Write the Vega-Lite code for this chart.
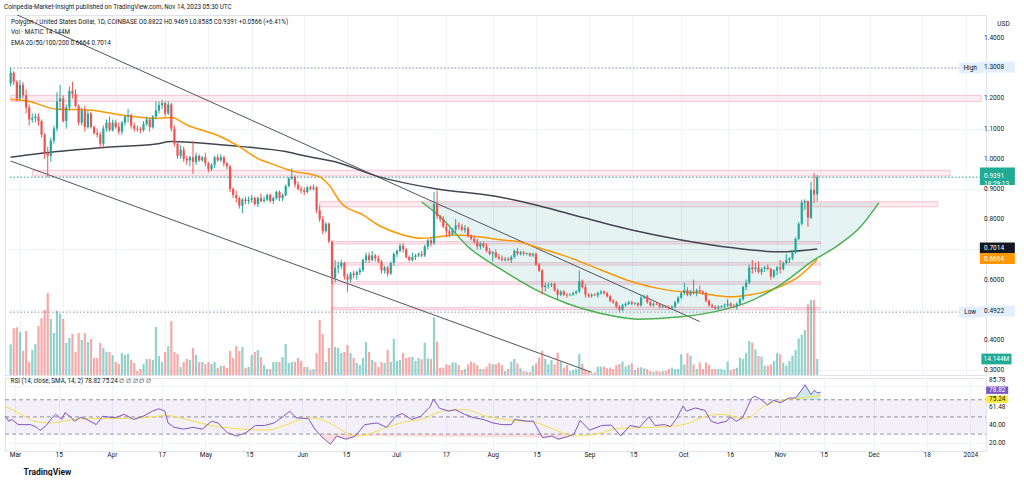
{
  "$schema": "https://vega.github.io/schema/vega-lite/v6.json",
  "background": "#ffffff",
  "padding": {"left": 4, "top": 4, "right": 0, "bottom": 0},
  "spacing": 0,
  "config": {
    "font": "Roboto",
    "view": {"stroke": "#e0e3eb", "strokeWidth": 1},
    "axis": {"labelFont": "Roboto", "labelFontSize": 6.5, "labelColor": "#131722", "gridColor": "#f0f3fa", "domain": false, "ticks": false, "labelOverlap": false},
    "title": {"font": "Roboto", "fontSize": 6.3, "fontWeight": "normal", "color": "#131722", "anchor": "start"}
  },
  "title": {"text": "Coinpedia-Market-Insight published on TradingView.com, Nov 14, 2023 05:30 UTC", "offset": 4},
  "resolve": {"scale": {"x": "independent", "y": "independent"}},
  "datasets": {
    "candles": [
      {"t":"2023-02-26","o":1.25,"h":1.3008,"l":1.24,"c":1.285,"v":27.1},
      {"t":"2023-02-27","o":1.285,"h":1.29,"l":1.245,"c":1.255,"v":41.3},
      {"t":"2023-02-28","o":1.255,"h":1.26,"l":1.19,"c":1.2,"v":42.2},
      {"t":"2023-03-01","o":1.2,"h":1.26,"l":1.195,"c":1.245,"v":38},
      {"t":"2023-03-02","o":1.245,"h":1.255,"l":1.2,"c":1.21,"v":21.2},
      {"t":"2023-03-03","o":1.21,"h":1.23,"l":1.15,"c":1.17,"v":38.9},
      {"t":"2023-03-04","o":1.17,"h":1.18,"l":1.11,"c":1.13,"v":11.5},
      {"t":"2023-03-05","o":1.13,"h":1.15,"l":1.12,"c":1.135,"v":22.1},
      {"t":"2023-03-06","o":1.135,"h":1.15,"l":1.12,"c":1.14,"v":27.4},
      {"t":"2023-03-07","o":1.14,"h":1.15,"l":1.11,"c":1.125,"v":43.3},
      {"t":"2023-03-08","o":1.125,"h":1.13,"l":1.07,"c":1.08,"v":50.4},
      {"t":"2023-03-09","o":1.08,"h":1.085,"l":1.0,"c":1.02,"v":57.5},
      {"t":"2023-03-10","o":1.02,"h":1.04,"l":0.94,"c":1.01,"v":72.5},
      {"t":"2023-03-11","o":1.01,"h":1.07,"l":0.99,"c":1.06,"v":49.5},
      {"t":"2023-03-12","o":1.06,"h":1.11,"l":1.05,"c":1.1,"v":37.1},
      {"t":"2023-03-13","o":1.1,"h":1.22,"l":1.09,"c":1.19,"v":56.6},
      {"t":"2023-03-14","o":1.19,"h":1.245,"l":1.16,"c":1.2,"v":53.9},
      {"t":"2023-03-15","o":1.2,"h":1.21,"l":1.12,"c":1.125,"v":49.5},
      {"t":"2023-03-16","o":1.125,"h":1.18,"l":1.1,"c":1.17,"v":28.3},
      {"t":"2023-03-17","o":1.17,"h":1.24,"l":1.16,"c":1.225,"v":32.7},
      {"t":"2023-03-18","o":1.225,"h":1.255,"l":1.2,"c":1.215,"v":36.2},
      {"t":"2023-03-19","o":1.215,"h":1.23,"l":1.17,"c":1.175,"v":20.3},
      {"t":"2023-03-20","o":1.175,"h":1.18,"l":1.11,"c":1.12,"v":37.1},
      {"t":"2023-03-21","o":1.12,"h":1.17,"l":1.11,"c":1.16,"v":30.9},
      {"t":"2023-03-22","o":1.16,"h":1.175,"l":1.09,"c":1.105,"v":37.1},
      {"t":"2023-03-23","o":1.105,"h":1.16,"l":1.1,"c":1.15,"v":29.2},
      {"t":"2023-03-24","o":1.15,"h":1.155,"l":1.1,"c":1.105,"v":31.8},
      {"t":"2023-03-25","o":1.105,"h":1.11,"l":1.08,"c":1.085,"v":15},
      {"t":"2023-03-26","o":1.085,"h":1.1,"l":1.07,"c":1.08,"v":15},
      {"t":"2023-03-27","o":1.08,"h":1.09,"l":1.035,"c":1.05,"v":28.3},
      {"t":"2023-03-28","o":1.05,"h":1.11,"l":1.04,"c":1.1,"v":23.9},
      {"t":"2023-03-29","o":1.1,"h":1.13,"l":1.09,"c":1.12,"v":20.3},
      {"t":"2023-03-30","o":1.12,"h":1.14,"l":1.09,"c":1.095,"v":20.3},
      {"t":"2023-03-31","o":1.095,"h":1.13,"l":1.09,"c":1.12,"v":17.7},
      {"t":"2023-04-01","o":1.12,"h":1.13,"l":1.1,"c":1.105,"v":11.5},
      {"t":"2023-04-02","o":1.105,"h":1.12,"l":1.08,"c":1.09,"v":9.7},
      {"t":"2023-04-03","o":1.09,"h":1.125,"l":1.08,"c":1.12,"v":19.4},
      {"t":"2023-04-04","o":1.12,"h":1.145,"l":1.11,"c":1.14,"v":17.7},
      {"t":"2023-04-05","o":1.14,"h":1.165,"l":1.12,"c":1.145,"v":18.6},
      {"t":"2023-04-06","o":1.145,"h":1.15,"l":1.1,"c":1.11,"v":13.3},
      {"t":"2023-04-07","o":1.11,"h":1.12,"l":1.09,"c":1.1,"v":10.6},
      {"t":"2023-04-08","o":1.1,"h":1.11,"l":1.09,"c":1.098,"v":3.5},
      {"t":"2023-04-09","o":1.098,"h":1.105,"l":1.085,"c":1.095,"v":5.3},
      {"t":"2023-04-10","o":1.095,"h":1.125,"l":1.09,"c":1.115,"v":9.7},
      {"t":"2023-04-11","o":1.115,"h":1.14,"l":1.11,"c":1.13,"v":14.1},
      {"t":"2023-04-12","o":1.13,"h":1.135,"l":1.09,"c":1.105,"v":14.1},
      {"t":"2023-04-13","o":1.105,"h":1.145,"l":1.1,"c":1.14,"v":13.3},
      {"t":"2023-04-14","o":1.14,"h":1.19,"l":1.13,"c":1.16,"v":42.4},
      {"t":"2023-04-15","o":1.16,"h":1.19,"l":1.15,"c":1.178,"v":16.8},
      {"t":"2023-04-16","o":1.178,"h":1.195,"l":1.165,"c":1.185,"v":11.5},
      {"t":"2023-04-17","o":1.185,"h":1.19,"l":1.14,"c":1.15,"v":20.3},
      {"t":"2023-04-18","o":1.15,"h":1.19,"l":1.145,"c":1.18,"v":25.6},
      {"t":"2023-04-19","o":1.18,"h":1.185,"l":1.09,"c":1.1,"v":47.7},
      {"t":"2023-04-20","o":1.1,"h":1.11,"l":1.04,"c":1.05,"v":20.3},
      {"t":"2023-04-21","o":1.05,"h":1.06,"l":1.0,"c":1.01,"v":18.6},
      {"t":"2023-04-22","o":1.01,"h":1.045,"l":1.0,"c":1.03,"v":7.1},
      {"t":"2023-04-23","o":1.03,"h":1.04,"l":0.99,"c":1.0,"v":11.5},
      {"t":"2023-04-24","o":1.0,"h":1.01,"l":0.98,"c":0.995,"v":14.1},
      {"t":"2023-04-25","o":0.995,"h":1.01,"l":0.975,"c":1.005,"v":13.3},
      {"t":"2023-04-26","o":1.005,"h":1.06,"l":0.95,"c":0.99,"v":23.9},
      {"t":"2023-04-27","o":0.99,"h":1.02,"l":0.98,"c":1.01,"v":17.7},
      {"t":"2023-04-28","o":1.01,"h":1.015,"l":0.99,"c":0.995,"v":11.5},
      {"t":"2023-04-29","o":0.995,"h":1.01,"l":0.99,"c":1.005,"v":11.5},
      {"t":"2023-04-30","o":1.005,"h":1.02,"l":0.975,"c":0.985,"v":9.7},
      {"t":"2023-05-01","o":0.985,"h":0.99,"l":0.955,"c":0.965,"v":11.5},
      {"t":"2023-05-02","o":0.965,"h":0.985,"l":0.96,"c":0.98,"v":9.7},
      {"t":"2023-05-03","o":0.98,"h":1.01,"l":0.97,"c":1.005,"v":11.5},
      {"t":"2023-05-04","o":1.005,"h":1.015,"l":0.99,"c":0.995,"v":6.2},
      {"t":"2023-05-05","o":0.995,"h":1.015,"l":0.99,"c":1.005,"v":8},
      {"t":"2023-05-06","o":1.005,"h":1.01,"l":0.975,"c":0.985,"v":8},
      {"t":"2023-05-07","o":0.985,"h":0.99,"l":0.965,"c":0.975,"v":6.2},
      {"t":"2023-05-08","o":0.975,"h":0.98,"l":0.89,"c":0.9,"v":21.2},
      {"t":"2023-05-09","o":0.9,"h":0.905,"l":0.87,"c":0.88,"v":15},
      {"t":"2023-05-10","o":0.88,"h":0.895,"l":0.855,"c":0.87,"v":25.6},
      {"t":"2023-05-11","o":0.87,"h":0.875,"l":0.835,"c":0.845,"v":21.2},
      {"t":"2023-05-12","o":0.845,"h":0.87,"l":0.82,"c":0.865,"v":24.8},
      {"t":"2023-05-13","o":0.865,"h":0.875,"l":0.85,"c":0.86,"v":6.2},
      {"t":"2023-05-14","o":0.86,"h":0.875,"l":0.85,"c":0.865,"v":7.1},
      {"t":"2023-05-15","o":0.865,"h":0.88,"l":0.855,"c":0.87,"v":17.7},
      {"t":"2023-05-16","o":0.87,"h":0.875,"l":0.845,"c":0.85,"v":20.3},
      {"t":"2023-05-17","o":0.85,"h":0.875,"l":0.84,"c":0.87,"v":22.1},
      {"t":"2023-05-18","o":0.87,"h":0.885,"l":0.855,"c":0.86,"v":15.9},
      {"t":"2023-05-19","o":0.86,"h":0.875,"l":0.855,"c":0.865,"v":8.8},
      {"t":"2023-05-20","o":0.865,"h":0.885,"l":0.86,"c":0.88,"v":5.3},
      {"t":"2023-05-21","o":0.88,"h":0.885,"l":0.855,"c":0.86,"v":5.3},
      {"t":"2023-05-22","o":0.86,"h":0.875,"l":0.85,"c":0.87,"v":11.5},
      {"t":"2023-05-23","o":0.87,"h":0.895,"l":0.865,"c":0.89,"v":11.5},
      {"t":"2023-05-24","o":0.89,"h":0.895,"l":0.86,"c":0.87,"v":11.5},
      {"t":"2023-05-25","o":0.87,"h":0.885,"l":0.86,"c":0.88,"v":15.9},
      {"t":"2023-05-26","o":0.88,"h":0.915,"l":0.875,"c":0.91,"v":27.4},
      {"t":"2023-05-27","o":0.91,"h":0.94,"l":0.905,"c":0.935,"v":10.6},
      {"t":"2023-05-28","o":0.935,"h":0.968,"l":0.93,"c":0.94,"v":11.5},
      {"t":"2023-05-29","o":0.94,"h":0.945,"l":0.905,"c":0.915,"v":11.5},
      {"t":"2023-05-30","o":0.915,"h":0.925,"l":0.895,"c":0.9,"v":15},
      {"t":"2023-05-31","o":0.9,"h":0.91,"l":0.885,"c":0.895,"v":12.4},
      {"t":"2023-06-01","o":0.895,"h":0.905,"l":0.88,"c":0.89,"v":7.1},
      {"t":"2023-06-02","o":0.89,"h":0.91,"l":0.885,"c":0.905,"v":7.1},
      {"t":"2023-06-03","o":0.905,"h":0.91,"l":0.895,"c":0.9,"v":4.4},
      {"t":"2023-06-04","o":0.9,"h":0.915,"l":0.895,"c":0.905,"v":5.3},
      {"t":"2023-06-05","o":0.905,"h":0.91,"l":0.82,"c":0.83,"v":19.4},
      {"t":"2023-06-06","o":0.83,"h":0.845,"l":0.79,"c":0.8,"v":48.6},
      {"t":"2023-06-07","o":0.8,"h":0.81,"l":0.75,"c":0.76,"v":36.2},
      {"t":"2023-06-08","o":0.76,"h":0.79,"l":0.755,"c":0.785,"v":11.5},
      {"t":"2023-06-09","o":0.785,"h":0.79,"l":0.72,"c":0.726,"v":23.9},
      {"t":"2023-06-10","o":0.726,"h":0.73,"l":0.585,"c":0.605,"v":116.7},
      {"t":"2023-06-11","o":0.605,"h":0.665,"l":0.59,"c":0.64,"v":24.8},
      {"t":"2023-06-12","o":0.64,"h":0.66,"l":0.62,"c":0.645,"v":23.9},
      {"t":"2023-06-13","o":0.645,"h":0.665,"l":0.635,"c":0.655,"v":19.4},
      {"t":"2023-06-14","o":0.655,"h":0.66,"l":0.6,"c":0.61,"v":20.3},
      {"t":"2023-06-15","o":0.61,"h":0.62,"l":0.56,"c":0.6,"v":26.5},
      {"t":"2023-06-16","o":0.6,"h":0.625,"l":0.59,"c":0.62,"v":19.4},
      {"t":"2023-06-17","o":0.62,"h":0.63,"l":0.605,"c":0.615,"v":15},
      {"t":"2023-06-18","o":0.615,"h":0.63,"l":0.6,"c":0.625,"v":10.6},
      {"t":"2023-06-19","o":0.625,"h":0.64,"l":0.615,"c":0.632,"v":8.8},
      {"t":"2023-06-20","o":0.632,"h":0.67,"l":0.625,"c":0.665,"v":15},
      {"t":"2023-06-21","o":0.665,"h":0.69,"l":0.655,"c":0.68,"v":29.2},
      {"t":"2023-06-22","o":0.68,"h":0.69,"l":0.655,"c":0.665,"v":20.3},
      {"t":"2023-06-23","o":0.665,"h":0.695,"l":0.66,"c":0.68,"v":13.3},
      {"t":"2023-06-24","o":0.68,"h":0.685,"l":0.66,"c":0.67,"v":11.5},
      {"t":"2023-06-25","o":0.67,"h":0.68,"l":0.655,"c":0.66,"v":7.1},
      {"t":"2023-06-26","o":0.66,"h":0.665,"l":0.62,"c":0.63,"v":11.5},
      {"t":"2023-06-27","o":0.63,"h":0.645,"l":0.62,"c":0.64,"v":10.6},
      {"t":"2023-06-28","o":0.64,"h":0.645,"l":0.61,"c":0.62,"v":22.1},
      {"t":"2023-06-29","o":0.62,"h":0.66,"l":0.615,"c":0.655,"v":11.5},
      {"t":"2023-06-30","o":0.655,"h":0.69,"l":0.645,"c":0.685,"v":31.8},
      {"t":"2023-07-01","o":0.685,"h":0.7,"l":0.675,"c":0.695,"v":12.4},
      {"t":"2023-07-02","o":0.695,"h":0.72,"l":0.69,"c":0.712,"v":13.3},
      {"t":"2023-07-03","o":0.712,"h":0.72,"l":0.69,"c":0.7,"v":19.4},
      {"t":"2023-07-04","o":0.7,"h":0.705,"l":0.67,"c":0.675,"v":15},
      {"t":"2023-07-05","o":0.675,"h":0.68,"l":0.66,"c":0.665,"v":15.9},
      {"t":"2023-07-06","o":0.665,"h":0.69,"l":0.66,"c":0.675,"v":15.9},
      {"t":"2023-07-07","o":0.675,"h":0.685,"l":0.665,"c":0.68,"v":12.4},
      {"t":"2023-07-08","o":0.68,"h":0.69,"l":0.675,"c":0.685,"v":15},
      {"t":"2023-07-09","o":0.685,"h":0.695,"l":0.675,"c":0.68,"v":13.9},
      {"t":"2023-07-10","o":0.68,"h":0.715,"l":0.675,"c":0.71,"v":28.6},
      {"t":"2023-07-11","o":0.71,"h":0.735,"l":0.7,"c":0.73,"v":14.7},
      {"t":"2023-07-12","o":0.73,"h":0.74,"l":0.71,"c":0.72,"v":14.1},
      {"t":"2023-07-13","o":0.72,"h":0.89,"l":0.715,"c":0.85,"v":51},
      {"t":"2023-07-14","o":0.85,"h":0.895,"l":0.8,"c":0.81,"v":29.5},
      {"t":"2023-07-15","o":0.81,"h":0.815,"l":0.79,"c":0.8,"v":6.5},
      {"t":"2023-07-16","o":0.8,"h":0.81,"l":0.77,"c":0.775,"v":6.5},
      {"t":"2023-07-17","o":0.775,"h":0.785,"l":0.74,"c":0.76,"v":9.4},
      {"t":"2023-07-18","o":0.76,"h":0.77,"l":0.74,"c":0.75,"v":8.8},
      {"t":"2023-07-19","o":0.75,"h":0.77,"l":0.745,"c":0.765,"v":11.2},
      {"t":"2023-07-20","o":0.765,"h":0.8,"l":0.755,"c":0.78,"v":10.9},
      {"t":"2023-07-21","o":0.78,"h":0.79,"l":0.765,"c":0.775,"v":8.8},
      {"t":"2023-07-22","o":0.775,"h":0.785,"l":0.76,"c":0.765,"v":4.4},
      {"t":"2023-07-23","o":0.765,"h":0.78,"l":0.755,"c":0.77,"v":5.3},
      {"t":"2023-07-24","o":0.77,"h":0.775,"l":0.74,"c":0.745,"v":9.4},
      {"t":"2023-07-25","o":0.745,"h":0.75,"l":0.73,"c":0.735,"v":11.8},
      {"t":"2023-07-26","o":0.735,"h":0.745,"l":0.72,"c":0.725,"v":10.9},
      {"t":"2023-07-27","o":0.725,"h":0.735,"l":0.7,"c":0.71,"v":8.8},
      {"t":"2023-07-28","o":0.71,"h":0.725,"l":0.7,"c":0.72,"v":5.3},
      {"t":"2023-07-29","o":0.72,"h":0.725,"l":0.705,"c":0.71,"v":5.3},
      {"t":"2023-07-30","o":0.71,"h":0.72,"l":0.69,"c":0.695,"v":7.4},
      {"t":"2023-07-31","o":0.695,"h":0.705,"l":0.68,"c":0.685,"v":10.3},
      {"t":"2023-08-01","o":0.685,"h":0.695,"l":0.66,"c":0.69,"v":9.4},
      {"t":"2023-08-02","o":0.69,"h":0.7,"l":0.67,"c":0.675,"v":9.7},
      {"t":"2023-08-03","o":0.675,"h":0.685,"l":0.665,"c":0.67,"v":10.9},
      {"t":"2023-08-04","o":0.67,"h":0.68,"l":0.66,"c":0.665,"v":8.8},
      {"t":"2023-08-05","o":0.665,"h":0.675,"l":0.66,"c":0.668,"v":3.5},
      {"t":"2023-08-06","o":0.668,"h":0.675,"l":0.66,"c":0.665,"v":5.3},
      {"t":"2023-08-07","o":0.665,"h":0.68,"l":0.655,"c":0.675,"v":11.8},
      {"t":"2023-08-08","o":0.675,"h":0.7,"l":0.67,"c":0.695,"v":14.1},
      {"t":"2023-08-09","o":0.695,"h":0.705,"l":0.68,"c":0.685,"v":10.3},
      {"t":"2023-08-10","o":0.685,"h":0.695,"l":0.68,"c":0.69,"v":5.9},
      {"t":"2023-08-11","o":0.69,"h":0.695,"l":0.68,"c":0.685,"v":3.5},
      {"t":"2023-08-12","o":0.685,"h":0.69,"l":0.68,"c":0.687,"v":2.9},
      {"t":"2023-08-13","o":0.687,"h":0.69,"l":0.675,"c":0.68,"v":2.9},
      {"t":"2023-08-14","o":0.68,"h":0.69,"l":0.675,"c":0.685,"v":8.3},
      {"t":"2023-08-15","o":0.685,"h":0.69,"l":0.645,"c":0.65,"v":10.3},
      {"t":"2023-08-16","o":0.65,"h":0.655,"l":0.625,"c":0.63,"v":15.3},
      {"t":"2023-08-17","o":0.63,"h":0.635,"l":0.55,"c":0.575,"v":21.5},
      {"t":"2023-08-18","o":0.575,"h":0.59,"l":0.56,"c":0.58,"v":14.1},
      {"t":"2023-08-19","o":0.58,"h":0.59,"l":0.57,"c":0.582,"v":9.4},
      {"t":"2023-08-20","o":0.582,"h":0.59,"l":0.575,"c":0.585,"v":13.3},
      {"t":"2023-08-21","o":0.585,"h":0.59,"l":0.56,"c":0.565,"v":9.4},
      {"t":"2023-08-22","o":0.565,"h":0.57,"l":0.535,"c":0.55,"v":19.7},
      {"t":"2023-08-23","o":0.55,"h":0.565,"l":0.545,"c":0.56,"v":11.8},
      {"t":"2023-08-24","o":0.56,"h":0.565,"l":0.545,"c":0.55,"v":6.5},
      {"t":"2023-08-25","o":0.55,"h":0.555,"l":0.54,"c":0.548,"v":8.8},
      {"t":"2023-08-26","o":0.548,"h":0.555,"l":0.545,"c":0.55,"v":3.5},
      {"t":"2023-08-27","o":0.55,"h":0.56,"l":0.545,"c":0.555,"v":4.4},
      {"t":"2023-08-28","o":0.555,"h":0.565,"l":0.55,"c":0.56,"v":5.3},
      {"t":"2023-08-29","o":0.56,"h":0.63,"l":0.555,"c":0.595,"v":18.6},
      {"t":"2023-08-30","o":0.595,"h":0.6,"l":0.57,"c":0.575,"v":9.7},
      {"t":"2023-08-31","o":0.575,"h":0.585,"l":0.54,"c":0.55,"v":4.4},
      {"t":"2023-09-01","o":0.55,"h":0.555,"l":0.54,"c":0.545,"v":2.9},
      {"t":"2023-09-02","o":0.545,"h":0.555,"l":0.54,"c":0.55,"v":1.5},
      {"t":"2023-09-03","o":0.55,"h":0.555,"l":0.545,"c":0.548,"v":2.4},
      {"t":"2023-09-04","o":0.548,"h":0.56,"l":0.54,"c":0.555,"v":7.4},
      {"t":"2023-09-05","o":0.555,"h":0.565,"l":0.55,"c":0.56,"v":7.4},
      {"t":"2023-09-06","o":0.56,"h":0.565,"l":0.55,"c":0.555,"v":7.4},
      {"t":"2023-09-07","o":0.555,"h":0.56,"l":0.54,"c":0.545,"v":5.9},
      {"t":"2023-09-08","o":0.545,"h":0.55,"l":0.525,"c":0.53,"v":6.5},
      {"t":"2023-09-09","o":0.53,"h":0.535,"l":0.52,"c":0.525,"v":5.3},
      {"t":"2023-09-10","o":0.525,"h":0.53,"l":0.505,"c":0.51,"v":8.8},
      {"t":"2023-09-11","o":0.51,"h":0.515,"l":0.4922,"c":0.5,"v":9.7},
      {"t":"2023-09-12","o":0.5,"h":0.52,"l":0.495,"c":0.515,"v":11.8},
      {"t":"2023-09-13","o":0.515,"h":0.525,"l":0.51,"c":0.52,"v":7.4},
      {"t":"2023-09-14","o":0.52,"h":0.53,"l":0.515,"c":0.525,"v":8.8},
      {"t":"2023-09-15","o":0.525,"h":0.53,"l":0.515,"c":0.52,"v":10.3},
      {"t":"2023-09-16","o":0.52,"h":0.525,"l":0.515,"c":0.522,"v":4.4},
      {"t":"2023-09-17","o":0.522,"h":0.525,"l":0.51,"c":0.515,"v":6.5},
      {"t":"2023-09-18","o":0.515,"h":0.55,"l":0.51,"c":0.54,"v":6.8},
      {"t":"2023-09-19","o":0.54,"h":0.55,"l":0.535,"c":0.545,"v":5.9},
      {"t":"2023-09-20","o":0.545,"h":0.55,"l":0.52,"c":0.525,"v":5.3},
      {"t":"2023-09-21","o":0.525,"h":0.53,"l":0.51,"c":0.515,"v":3.5},
      {"t":"2023-09-22","o":0.515,"h":0.525,"l":0.51,"c":0.52,"v":2.9},
      {"t":"2023-09-23","o":0.52,"h":0.525,"l":0.515,"c":0.518,"v":3.5},
      {"t":"2023-09-24","o":0.518,"h":0.522,"l":0.505,"c":0.51,"v":2.9},
      {"t":"2023-09-25","o":0.51,"h":0.515,"l":0.505,"c":0.512,"v":3.5},
      {"t":"2023-09-26","o":0.512,"h":0.515,"l":0.505,"c":0.508,"v":3.5},
      {"t":"2023-09-27","o":0.508,"h":0.515,"l":0.5,"c":0.505,"v":5.3},
      {"t":"2023-09-28","o":0.505,"h":0.515,"l":0.5,"c":0.51,"v":6.5},
      {"t":"2023-09-29","o":0.51,"h":0.53,"l":0.505,"c":0.525,"v":5.3},
      {"t":"2023-09-30","o":0.525,"h":0.545,"l":0.52,"c":0.54,"v":5.3},
      {"t":"2023-10-01","o":0.54,"h":0.56,"l":0.535,"c":0.555,"v":18.3},
      {"t":"2023-10-02","o":0.555,"h":0.59,"l":0.55,"c":0.565,"v":9.4},
      {"t":"2023-10-03","o":0.565,"h":0.575,"l":0.545,"c":0.55,"v":19.2},
      {"t":"2023-10-04","o":0.55,"h":0.565,"l":0.545,"c":0.56,"v":17.1},
      {"t":"2023-10-05","o":0.56,"h":0.6,"l":0.55,"c":0.555,"v":9.4},
      {"t":"2023-10-06","o":0.555,"h":0.57,"l":0.545,"c":0.565,"v":5.3},
      {"t":"2023-10-07","o":0.565,"h":0.58,"l":0.555,"c":0.56,"v":11.2},
      {"t":"2023-10-08","o":0.56,"h":0.565,"l":0.55,"c":0.555,"v":5.3},
      {"t":"2023-10-09","o":0.555,"h":0.56,"l":0.525,"c":0.53,"v":11.2},
      {"t":"2023-10-10","o":0.53,"h":0.535,"l":0.51,"c":0.515,"v":8.8},
      {"t":"2023-10-11","o":0.515,"h":0.52,"l":0.505,"c":0.51,"v":5.3},
      {"t":"2023-10-12","o":0.51,"h":0.515,"l":0.5,"c":0.505,"v":5.3},
      {"t":"2023-10-13","o":0.505,"h":0.515,"l":0.5,"c":0.51,"v":5.3},
      {"t":"2023-10-14","o":0.51,"h":0.515,"l":0.505,"c":0.512,"v":5.3},
      {"t":"2023-10-15","o":0.512,"h":0.52,"l":0.505,"c":0.515,"v":4.4},
      {"t":"2023-10-16","o":0.515,"h":0.535,"l":0.51,"c":0.52,"v":11.8},
      {"t":"2023-10-17","o":0.52,"h":0.525,"l":0.51,"c":0.512,"v":4.4},
      {"t":"2023-10-18","o":0.512,"h":0.52,"l":0.505,"c":0.51,"v":5.3},
      {"t":"2023-10-19","o":0.51,"h":0.525,"l":0.5,"c":0.52,"v":6.5},
      {"t":"2023-10-20","o":0.52,"h":0.54,"l":0.515,"c":0.535,"v":15.3},
      {"t":"2023-10-21","o":0.535,"h":0.58,"l":0.53,"c":0.575,"v":14.1},
      {"t":"2023-10-22","o":0.575,"h":0.6,"l":0.565,"c":0.59,"v":19.7},
      {"t":"2023-10-23","o":0.59,"h":0.65,"l":0.585,"c":0.64,"v":30},
      {"t":"2023-10-24","o":0.64,"h":0.665,"l":0.62,"c":0.635,"v":28.6},
      {"t":"2023-10-25","o":0.635,"h":0.655,"l":0.625,"c":0.64,"v":22.7},
      {"t":"2023-10-26","o":0.64,"h":0.66,"l":0.62,"c":0.625,"v":17.1},
      {"t":"2023-10-27","o":0.625,"h":0.64,"l":0.615,"c":0.635,"v":16.2},
      {"t":"2023-10-28","o":0.635,"h":0.645,"l":0.625,"c":0.64,"v":8.3},
      {"t":"2023-10-29","o":0.64,"h":0.65,"l":0.63,"c":0.635,"v":8.3},
      {"t":"2023-10-30","o":0.635,"h":0.64,"l":0.6,"c":0.61,"v":9.4},
      {"t":"2023-10-31","o":0.61,"h":0.635,"l":0.605,"c":0.63,"v":12.4},
      {"t":"2023-11-01","o":0.63,"h":0.645,"l":0.615,"c":0.64,"v":19.2},
      {"t":"2023-11-02","o":0.64,"h":0.665,"l":0.62,"c":0.635,"v":18.3},
      {"t":"2023-11-03","o":0.635,"h":0.66,"l":0.63,"c":0.655,"v":10.9},
      {"t":"2023-11-04","o":0.655,"h":0.685,"l":0.65,"c":0.665,"v":8.3},
      {"t":"2023-11-05","o":0.665,"h":0.675,"l":0.655,"c":0.67,"v":12.4},
      {"t":"2023-11-06","o":0.67,"h":0.695,"l":0.665,"c":0.69,"v":17.1},
      {"t":"2023-11-07","o":0.69,"h":0.74,"l":0.685,"c":0.735,"v":22.1},
      {"t":"2023-11-08","o":0.735,"h":0.79,"l":0.73,"c":0.785,"v":32.4},
      {"t":"2023-11-09","o":0.785,"h":0.865,"l":0.78,"c":0.855,"v":35.4},
      {"t":"2023-11-10","o":0.855,"h":0.866,"l":0.83,"c":0.86,"v":39.8},
      {"t":"2023-11-11","o":0.86,"h":0.862,"l":0.775,"c":0.805,"v":62.5},
      {"t":"2023-11-12","o":0.805,"h":0.924,"l":0.8,"c":0.897,"v":66.3},
      {"t":"2023-11-13","o":0.897,"h":0.952,"l":0.855,"c":0.8822,"v":66.3},
      {"t":"2023-11-14","o":0.8822,"h":0.9469,"l":0.8585,"c":0.9391,"v":14.144}
    ],
    "ema": [
      {"t":"2023-02-26","k":"e50","p":1.197},{"t":"2023-03-04","k":"e50","p":1.19},{"t":"2023-03-13","k":"e50","p":1.164},
      {"t":"2023-03-23","k":"e50","p":1.162},{"t":"2023-04-03","k":"e50","p":1.145},{"t":"2023-04-14","k":"e50","p":1.134},
      {"t":"2023-04-19","k":"e50","p":1.137},{"t":"2023-04-24","k":"e50","p":1.112},{"t":"2023-05-05","k":"e50","p":1.073},
      {"t":"2023-05-10","k":"e50","p":1.046},{"t":"2023-05-18","k":"e50","p":0.996},{"t":"2023-05-21","k":"e50","p":0.985},
      {"t":"2023-05-28","k":"e50","p":0.96},{"t":"2023-06-06","k":"e50","p":0.94},{"t":"2023-06-09","k":"e50","p":0.913},
      {"t":"2023-06-13","k":"e50","p":0.853},{"t":"2023-06-20","k":"e50","p":0.814},{"t":"2023-06-26","k":"e50","p":0.775},
      {"t":"2023-07-03","k":"e50","p":0.748},{"t":"2023-07-09","k":"e50","p":0.737},{"t":"2023-07-13","k":"e50","p":0.74},
      {"t":"2023-07-20","k":"e50","p":0.748},{"t":"2023-07-29","k":"e50","p":0.74},{"t":"2023-08-04","k":"e50","p":0.731},
      {"t":"2023-08-09","k":"e50","p":0.726},{"t":"2023-08-14","k":"e50","p":0.711},{"t":"2023-08-25","k":"e50","p":0.676},
      {"t":"2023-09-05","k":"e50","p":0.632},{"t":"2023-09-15","k":"e50","p":0.593},{"t":"2023-09-26","k":"e50","p":0.566},
      {"t":"2023-10-07","k":"e50","p":0.555},{"t":"2023-10-17","k":"e50","p":0.543},{"t":"2023-10-23","k":"e50","p":0.549},
      {"t":"2023-11-02","k":"e50","p":0.577},{"t":"2023-11-08","k":"e50","p":0.61},{"t":"2023-11-14","k":"e50","p":0.6664},
      {"t":"2023-02-26","k":"e200","p":1.005},{"t":"2023-03-13","k":"e200","p":1.024},{"t":"2023-03-29","k":"e200","p":1.038},
      {"t":"2023-04-14","k":"e200","p":1.049},{"t":"2023-04-19","k":"e200","p":1.057},{"t":"2023-04-26","k":"e200","p":1.054},
      {"t":"2023-05-10","k":"e200","p":1.042},{"t":"2023-05-26","k":"e200","p":1.024},{"t":"2023-06-01","k":"e200","p":1.01},
      {"t":"2023-06-11","k":"e200","p":0.99},{"t":"2023-06-25","k":"e200","p":0.941},{"t":"2023-07-13","k":"e200","p":0.902},
      {"t":"2023-08-04","k":"e200","p":0.872},{"t":"2023-08-15","k":"e200","p":0.847},{"t":"2023-08-25","k":"e200","p":0.82},
      {"t":"2023-09-15","k":"e200","p":0.764},{"t":"2023-10-01","k":"e200","p":0.731},{"t":"2023-10-17","k":"e200","p":0.706},
      {"t":"2023-11-02","k":"e200","p":0.692},{"t":"2023-11-14","k":"e200","p":0.7014}
    ],
    "cup": [
      {"t":"2023-07-09","p":0.857},{"t":"2023-07-15","p":0.808},{"t":"2023-07-24","p":0.709},{"t":"2023-08-04","p":0.632},
      {"t":"2023-08-14","p":0.571},{"t":"2023-08-25","p":0.521},{"t":"2023-09-05","p":0.488},{"t":"2023-09-17","p":0.469},
      {"t":"2023-10-01","p":0.477},{"t":"2023-10-12","p":0.494},{"t":"2023-10-23","p":0.527},{"t":"2023-11-02","p":0.582},
      {"t":"2023-11-13","p":0.665},{"t":"2023-11-21","p":0.715},{"t":"2023-11-28","p":0.775},{"t":"2023-12-04","p":0.855}
    ],
    "zones": [
      {"t":"2023-02-26","t2":"2024-01-06","p":1.19,"p2":1.21},
      {"t":"2023-03-05","t2":"2023-12-27","p":0.943,"p2":0.962},
      {"t":"2023-06-06","t2":"2023-12-23","p":0.841,"p2":0.858},
      {"t":"2023-06-10","t2":"2023-11-15","p":0.718,"p2":0.726},
      {"t":"2023-06-10","t2":"2023-11-15","p":0.648,"p2":0.656},
      {"t":"2023-06-10","t2":"2023-11-15","p":0.585,"p2":0.593},
      {"t":"2023-06-10","t2":"2023-11-15","p":0.501,"p2":0.508}
    ],
    "channel": [
      {"t":"2023-02-28","p":1.477,"t2":"2023-10-07","p2":0.461},
      {"t":"2023-02-26","p":0.9926,"t2":"2023-09-02","p2":0.293}
    ],
    "levels": [
      {"k":"hl","p":1.3008},{"k":"hl","p":0.4922},{"k":"last","p":0.9391}
    ],
    "priceTicks": [
      {"p":0.3},{"p":0.4},{"p":0.6},{"p":0.8},{"p":0.9},{"p":1.0},{"p":1.1},{"p":1.2},{"p":1.4}
    ],
    "badges": [
      {"k":"last","p":0.9391,"lab":"0.9391\n18:29:13"},
      {"k":"e200","p":0.7014,"lab":"0.7014"},
      {"k":"e50","p":0.6664,"lab":"0.6664"},
      {"k":"hl","p":1.3008,"lab":"1.3008"},
      {"k":"hl","p":0.4922,"lab":"0.4922"}
    ],
    "tags": [
      {"p":1.3008,"lab":"High"},{"p":0.4922,"lab":"Low"}
    ],
    "volTag": [{"v":14.144,"lab":"14.144M"}],
    "rsi": [
      {"t":"2023-02-26","r":50.7},{"t":"2023-02-27","r":45},{"t":"2023-02-28","r":47},{"t":"2023-03-02","r":41},
      {"t":"2023-03-06","r":41},{"t":"2023-03-08","r":37.8},{"t":"2023-03-09","r":34},{"t":"2023-03-11","r":40},
      {"t":"2023-03-13","r":49.5},{"t":"2023-03-14","r":53},{"t":"2023-03-16","r":47},{"t":"2023-03-17","r":55},
      {"t":"2023-03-19","r":49.5},{"t":"2023-03-20","r":45},{"t":"2023-03-22","r":49.5},{"t":"2023-03-24","r":47},
      {"t":"2023-03-27","r":41},{"t":"2023-03-29","r":50.7},{"t":"2023-04-02","r":49},{"t":"2023-04-05","r":53},
      {"t":"2023-04-08","r":47},{"t":"2023-04-11","r":50.7},{"t":"2023-04-14","r":56.7},{"t":"2023-04-16","r":59.5},
      {"t":"2023-04-18","r":56.7},{"t":"2023-04-19","r":43},{"t":"2023-04-21","r":37.8},{"t":"2023-04-24","r":35.8},
      {"t":"2023-04-27","r":37.8},{"t":"2023-04-30","r":35.8},{"t":"2023-05-03","r":45},{"t":"2023-05-05","r":43},
      {"t":"2023-05-08","r":31.6},{"t":"2023-05-11","r":27.7},{"t":"2023-05-14","r":31.6},{"t":"2023-05-17","r":40},
      {"t":"2023-05-20","r":40},{"t":"2023-05-23","r":43},{"t":"2023-05-26","r":50.7},{"t":"2023-05-28","r":56.7},
      {"t":"2023-05-30","r":49},{"t":"2023-06-03","r":48},{"t":"2023-06-05","r":35.8},{"t":"2023-06-07","r":27.7},
      {"t":"2023-06-10","r":18},{"t":"2023-06-12","r":27.7},{"t":"2023-06-15","r":24},{"t":"2023-06-18","r":27.7},
      {"t":"2023-06-21","r":41},{"t":"2023-06-25","r":43},{"t":"2023-06-28","r":37.8},{"t":"2023-07-01","r":50.7},
      {"t":"2023-07-03","r":54},{"t":"2023-07-06","r":47},{"t":"2023-07-09","r":50.7},{"t":"2023-07-11","r":58.5},
      {"t":"2023-07-12","r":62},{"t":"2023-07-13","r":70.8},{"t":"2023-07-15","r":60},{"t":"2023-07-18","r":56.7},
      {"t":"2023-07-20","r":58.5},{"t":"2023-07-23","r":53},{"t":"2023-07-26","r":49},{"t":"2023-07-29","r":47},
      {"t":"2023-08-01","r":43},{"t":"2023-08-04","r":41},{"t":"2023-08-07","r":41},{"t":"2023-08-08","r":47},
      {"t":"2023-08-12","r":45},{"t":"2023-08-14","r":45},{"t":"2023-08-17","r":25.8},{"t":"2023-08-20","r":27.7},
      {"t":"2023-08-22","r":24},{"t":"2023-08-25","r":27},{"t":"2023-08-27","r":29.7},{"t":"2023-08-29","r":46},
      {"t":"2023-09-01","r":34.5},{"t":"2023-09-05","r":40},{"t":"2023-09-08","r":40.5},{"t":"2023-09-11","r":27.7},
      {"t":"2023-09-14","r":40},{"t":"2023-09-17","r":37.8},{"t":"2023-09-20","r":50},{"t":"2023-09-22","r":40},
      {"t":"2023-09-25","r":41},{"t":"2023-09-27","r":38.7},{"t":"2023-09-29","r":49},{"t":"2023-10-01","r":62.7},
      {"t":"2023-10-02","r":56.7},{"t":"2023-10-05","r":60.4},{"t":"2023-10-08","r":57.5},{"t":"2023-10-10","r":45},
      {"t":"2023-10-12","r":42.4},{"t":"2023-10-15","r":45},{"t":"2023-10-16","r":50},{"t":"2023-10-18","r":45},
      {"t":"2023-10-20","r":49},{"t":"2023-10-23","r":72},{"t":"2023-10-24","r":74},{"t":"2023-10-26","r":70},
      {"t":"2023-10-28","r":64},{"t":"2023-10-30","r":69.5},{"t":"2023-11-01","r":66.5},{"t":"2023-11-04","r":72},
      {"t":"2023-11-06","r":72},{"t":"2023-11-08","r":81.7},{"t":"2023-11-09","r":87.5},{"t":"2023-11-11","r":76},
      {"t":"2023-11-12","r":81},{"t":"2023-11-13","r":78},{"t":"2023-11-14","r":78.82}
    ],
    "rsiMa": [
      {"t":"2023-02-26","r":62},{"t":"2023-03-03","r":53},{"t":"2023-03-07","r":45},{"t":"2023-03-13","r":43},
      {"t":"2023-03-18","r":46},{"t":"2023-03-23","r":48},{"t":"2023-03-31","r":48},{"t":"2023-04-08","r":48.4},
      {"t":"2023-04-15","r":50.7},{"t":"2023-04-19","r":51.5},{"t":"2023-04-25","r":47},{"t":"2023-05-02","r":40.5},
      {"t":"2023-05-10","r":36.6},{"t":"2023-05-21","r":34.7},{"t":"2023-05-27","r":41},{"t":"2023-06-03","r":49},
      {"t":"2023-06-07","r":47},{"t":"2023-06-11","r":40.5},{"t":"2023-06-18","r":27.7},{"t":"2023-06-22","r":29.7},
      {"t":"2023-06-28","r":37.8},{"t":"2023-07-05","r":45},{"t":"2023-07-09","r":47},{"t":"2023-07-16","r":56.7},
      {"t":"2023-07-23","r":58.5},{"t":"2023-07-30","r":50.7},{"t":"2023-08-07","r":46},{"t":"2023-08-14","r":44},
      {"t":"2023-08-22","r":33.5},{"t":"2023-08-27","r":27.7},{"t":"2023-09-05","r":31.6},{"t":"2023-09-10","r":36.7},
      {"t":"2023-09-21","r":37.8},{"t":"2023-10-01","r":41},{"t":"2023-10-09","r":51.5},{"t":"2023-10-13","r":53},
      {"t":"2023-10-21","r":48},{"t":"2023-10-27","r":62.7},{"t":"2023-11-02","r":70},{"t":"2023-11-08","r":72},
      {"t":"2023-11-14","r":75.24}
    ],
    "rsiLevels": [{"r":70},{"r":50},{"r":30}],
    "rsiBand": [{"r":70,"r2":30}],
    "rsiTicks": [{"r":20,"lab":"20.00"},{"r":40,"lab":"40.00"},{"r":61.48,"lab":"61.48"},{"r":85.78,"lab":"85.78"}],
    "rsiTags": [{"k":"rsi","r":78.82,"lab":"78.82"},{"k":"ma","r":75.24,"lab":"75.24"}]
  },
  "vconcat": [
    {
      "width": 981,
      "height": 360,
      "title": {
        "text": [
          "Polygon / United States Dollar, 1D, COINBASE   O0.8822  H0.9469  L0.8585  C0.9391  +0.0566 (+6.41%)",
          "Vol · MATIC   14.144M",
          "EMA 20/50/100/200   0.6664   0.7014"
        ],
        "baseline": "top",
        "offset": -31,
        "lineHeight": 10.5,
        "dx": 6
      },
      "resolve": {"scale": {"y": "independent"}},
      "layer": [
        {
          "layer": [
            {
              "data": {"name": "zones"},
              "mark": {"type": "rect", "fill": "#f8c8d6", "fillOpacity": 0.35, "stroke": "#f2a7bd", "strokeOpacity": 0.8, "strokeWidth": 0.8, "clip": true},
              "encoding": {
                "x": {
                  "field": "t", "type": "temporal",
                  "scale": {"type": "utc", "domain": [{"year":2023,"month":2,"date":25,"hours":19,"utc":true},{"year":2024,"month":1,"date":6,"utc":true}]},
                  "axis": {
                    "title": null, "labels": false, "grid": true,
                    "values": [
                      {"year":2023,"month":3,"date":1,"utc":true},{"year":2023,"month":3,"date":15,"utc":true},
                      {"year":2023,"month":4,"date":1,"utc":true},{"year":2023,"month":4,"date":17,"utc":true},
                      {"year":2023,"month":5,"date":1,"utc":true},{"year":2023,"month":5,"date":15,"utc":true},
                      {"year":2023,"month":6,"date":1,"utc":true},{"year":2023,"month":6,"date":15,"utc":true},
                      {"year":2023,"month":7,"date":1,"utc":true},{"year":2023,"month":7,"date":17,"utc":true},
                      {"year":2023,"month":8,"date":1,"utc":true},{"year":2023,"month":8,"date":15,"utc":true},
                      {"year":2023,"month":9,"date":1,"utc":true},{"year":2023,"month":9,"date":15,"utc":true},
                      {"year":2023,"month":10,"date":1,"utc":true},{"year":2023,"month":10,"date":16,"utc":true},
                      {"year":2023,"month":11,"date":1,"utc":true},{"year":2023,"month":11,"date":15,"utc":true},
                      {"year":2023,"month":12,"date":1,"utc":true},{"year":2023,"month":12,"date":18,"utc":true},
                      {"year":2024,"month":1,"date":1,"utc":true}
                    ]
                  }
                },
                "x2": {"field": "t2"},
                "y": {
                  "field": "p", "type": "quantitative",
                  "scale": {"domain": [0.2841, 1.4762], "zero": false, "nice": false},
                  "axis": {
                    "orient": "right", "grid": true, "labels": false,
                    "values": [0.3,0.4,0.5,0.6,0.7,0.8,0.9,1.0,1.1,1.2,1.3,1.4],
                    "title": "USD", "titleAngle": 0, "titleFontSize": 6.5, "titleFontWeight": "normal", "titleColor": "#131722",
                    "titleAlign": "center", "titleBaseline": "middle", "titleX": 17, "titleY": 8
                  }
                },
                "y2": {"field": "p2"}
              }
            },
            {
              "data": {"name": "cup"},
              "mark": {"type": "area", "interpolate": "monotone", "color": "#26a69a", "opacity": 0.12, "clip": true},
              "encoding": {
                "x": {"field": "t", "type": "temporal"},
                "y": {"field": "p", "type": "quantitative"},
                "y2": {"datum": 0.857}
              }
            },
            {
              "data": {"name": "levels"},
              "mark": {"type": "rule", "strokeDash": [1.5, 2], "strokeWidth": 1, "clip": true},
              "encoding": {
                "x": {"datum": {"year":2023,"month":2,"date":25,"hours":19,"utc":true}, "type": "temporal"},
                "x2": {"datum": {"year":2024,"month":1,"date":6,"utc":true}},
                "y": {"field": "p", "type": "quantitative"},
                "color": {"condition": {"test": "datum.k == 'last'", "value": "#26a69a"}, "value": "#9598a1"}
              }
            },
            {
              "data": {"name": "channel"},
              "mark": {"type": "rule", "color": "#50535e", "strokeWidth": 1, "clip": true},
              "encoding": {
                "x": {"field": "t", "type": "temporal"},
                "x2": {"field": "t2"},
                "y": {"field": "p", "type": "quantitative"},
                "y2": {"field": "p2"}
              }
            },
            {
              "data": {"name": "ema"},
              "transform": [{"filter": "datum.k == 'e200'"}],
              "mark": {"type": "line", "interpolate": "monotone", "color": "#434651", "strokeWidth": 1.5, "clip": true},
              "encoding": {
                "x": {"field": "t", "type": "temporal"},
                "y": {"field": "p", "type": "quantitative"}
              }
            },
            {
              "data": {"name": "ema"},
              "transform": [{"filter": "datum.k == 'e50'"}],
              "mark": {"type": "line", "interpolate": "monotone", "color": "#ff9800", "strokeWidth": 1.5, "clip": true},
              "encoding": {
                "x": {"field": "t", "type": "temporal"},
                "y": {"field": "p", "type": "quantitative"}
              }
            },
            {
              "data": {"name": "cup"},
              "mark": {"type": "line", "interpolate": "monotone", "color": "#4caf50", "strokeWidth": 1.5, "clip": true},
              "encoding": {
                "x": {"field": "t", "type": "temporal"},
                "y": {"field": "p", "type": "quantitative"}
              }
            },
            {
              "data": {"name": "candles"},
              "mark": {"type": "rule", "strokeWidth": 1, "clip": true},
              "encoding": {
                "x": {"field": "t", "type": "temporal"},
                "y": {"field": "l", "type": "quantitative"},
                "y2": {"field": "h"},
                "color": {"condition": {"test": "datum.c >= datum.o", "value": "#26a69a"}, "value": "#ef5350"}
              }
            },
            {
              "data": {"name": "candles"},
              "mark": {"type": "bar", "size": 2.2, "clip": true},
              "encoding": {
                "x": {"field": "t", "type": "temporal"},
                "y": {"field": "o", "type": "quantitative"},
                "y2": {"field": "c"},
                "color": {"condition": {"test": "datum.c >= datum.o", "value": "#26a69a"}, "value": "#ef5350"}
              }
            },
            {
              "data": {"name": "priceTicks"},
              "mark": {"type": "text", "fontSize": 6.5, "color": "#131722", "align": "left", "baseline": "middle"},
              "encoding": {
                "x": {"datum": {"year":2024,"month":1,"date":7,"utc":true}, "type": "temporal"},
                "y": {"field": "p", "type": "quantitative"},
                "text": {"field": "p", "type": "quantitative", "format": ".4f"}
              }
            },
            {
              "data": {"name": "tags"},
              "mark": {"type": "point", "filled": true, "opacity": 1, "color": "#e3effd", "size": 484, "shape": "M-1,-0.5L1,-0.5L1,0.5L-1,0.5Z"},
              "encoding": {
                "x": {"datum": {"year":2024,"month":1,"date":2,"hours":12,"utc":true}, "type": "temporal"},
                "y": {"field": "p", "type": "quantitative"}
              }
            },
            {
              "data": {"name": "tags"},
              "mark": {"type": "text", "fontSize": 6.5, "color": "#131722", "align": "center", "baseline": "middle"},
              "encoding": {
                "x": {"datum": {"year":2024,"month":1,"date":2,"hours":12,"utc":true}, "type": "temporal"},
                "y": {"field": "p", "type": "quantitative"},
                "text": {"field": "lab"}
              }
            },
            {
              "data": {"name": "badges"},
              "mark": {"type": "point", "filled": true, "opacity": 1, "size": 1225, "yOffset": -1},
              "encoding": {
                "x": {"datum": {"year":2024,"month":1,"date":11,"hours":7,"utc":true}, "type": "temporal"},
                "y": {"field": "p", "type": "quantitative"},
                "fill": {"field": "k", "type": "nominal", "legend": null,
                  "scale": {"domain": ["last","e200","e50","hl"], "range": ["#22ab94","#131722","#ff9800","#e3effd"]}},
                "shape": {"field": "k", "type": "nominal", "legend": null,
                  "scale": {"domain": ["last","e200","e50","hl"], "range": ["M-1,-0.5L1,-0.5L1,0.5L-1,0.5Z","M-1,-0.31L1,-0.31L1,0.31L-1,0.31Z","M-1,-0.31L1,-0.31L1,0.31L-1,0.31Z","M-1,-0.31L1,-0.31L1,0.31L-1,0.31Z"]}}
              }
            },
            {
              "data": {"name": "badges"},
              "mark": {"type": "text", "fontSize": 6.5, "align": "left", "baseline": "middle", "lineBreak": "\n", "lineHeight": 8, "yOffset": -1},
              "encoding": {
                "x": {"datum": {"year":2024,"month":1,"date":7,"utc":true}, "type": "temporal"},
                "y": {"field": "p", "type": "quantitative"},
                "text": {"field": "lab"},
                "color": {"condition": {"test": "datum.k == 'hl'", "value": "#131722"}, "value": "#ffffff"}
              }
            }
          ]
        },
        {
          "layer": [
            {
              "data": {"name": "candles"},
              "mark": {"type": "bar", "size": 2.2, "opacity": 0.5, "clip": true},
              "encoding": {
                "x": {"field": "t", "type": "temporal"},
                "y": {"field": "v", "type": "quantitative", "scale": {"domain": [0, 318], "nice": false}, "axis": null},
                "color": {"condition": {"test": "datum.c >= datum.o", "value": "#26a69a"}, "value": "#ef5350"}
              }
            },
            {
              "data": {"name": "volTag"},
              "mark": {"type": "point", "filled": true, "opacity": 1, "color": "#22ab94", "size": 900, "shape": "M-1,-0.36L1,-0.36L1,0.36L-1,0.36Z"},
              "encoding": {
                "x": {"datum": {"year":2024,"month":1,"date":11,"utc":true}, "type": "temporal"},
                "y": {"field": "v", "type": "quantitative", "axis": null}
              }
            },
            {
              "data": {"name": "volTag"},
              "mark": {"type": "text", "fontSize": 6.5, "color": "#ffffff", "align": "center", "baseline": "middle"},
              "encoding": {
                "x": {"datum": {"year":2024,"month":1,"date":11,"utc":true}, "type": "temporal"},
                "y": {"field": "v", "type": "quantitative", "axis": null},
                "text": {"field": "lab"}
              }
            }
          ]
        }
      ]
    },
    {
      "width": 981,
      "height": 73,
      "title": {"text": "RSI (14, close, SMA, 14, 2)   78.82   75.24   ∅  ∅  ∅  ∅        ∅", "baseline": "top", "offset": -7, "dx": 6},
      "layer": [
        {
          "data": {"name": "rsiBand"},
          "mark": {"type": "rect", "color": "#7e57c2", "opacity": 0.09},
          "encoding": {
            "x": {
              "datum": {"year":2023,"month":2,"date":25,"hours":19,"utc":true}, "type": "temporal",
              "scale": {"type": "utc", "domain": [{"year":2023,"month":2,"date":25,"hours":19,"utc":true},{"year":2024,"month":1,"date":6,"utc":true}]},
              "axis": {
                "title": "TradingView", "grid": true, "labelPadding": 0, "labelOverlap": false,
                "values": [
                  {"year":2023,"month":3,"date":1,"utc":true},{"year":2023,"month":3,"date":15,"utc":true},
                  {"year":2023,"month":4,"date":1,"utc":true},{"year":2023,"month":4,"date":17,"utc":true},
                  {"year":2023,"month":5,"date":1,"utc":true},{"year":2023,"month":5,"date":15,"utc":true},
                  {"year":2023,"month":6,"date":1,"utc":true},{"year":2023,"month":6,"date":15,"utc":true},
                  {"year":2023,"month":7,"date":1,"utc":true},{"year":2023,"month":7,"date":17,"utc":true},
                  {"year":2023,"month":8,"date":1,"utc":true},{"year":2023,"month":8,"date":15,"utc":true},
                  {"year":2023,"month":9,"date":1,"utc":true},{"year":2023,"month":9,"date":15,"utc":true},
                  {"year":2023,"month":10,"date":1,"utc":true},{"year":2023,"month":10,"date":16,"utc":true},
                  {"year":2023,"month":11,"date":1,"utc":true},{"year":2023,"month":11,"date":15,"utc":true},
                  {"year":2023,"month":12,"date":1,"utc":true},{"year":2023,"month":12,"date":18,"utc":true},
                  {"year":2024,"month":1,"date":1,"utc":true}
                ],
                "labelExpr": "utcdate(datum.value) == 1 ? (utcmonth(datum.value) == 0 ? utcFormat(datum.value, '%Y') : utcFormat(datum.value, '%b')) : utcFormat(datum.value, '%-d')",
                "titleAnchor": "start", "titleAlign": "left", "titleBaseline": "middle", "titleX": 18, "titleY": 20,
                "titleFontSize": 8.5, "titleFontWeight": "bold", "titleColor": "#131722"
              }
            },
            "x2": {"datum": {"year":2024,"month":1,"date":6,"utc":true}},
            "y": {
              "field": "r", "type": "quantitative",
              "scale": {"domain": [10.26, 95.34], "zero": false, "nice": false},
              "axis": {"orient": "right", "title": null, "grid": true, "labels": false, "values": [20, 40, 61.48, 85.78]}
            },
            "y2": {"field": "r2"}
          }
        },
        {
          "data": {"name": "rsiLevels"},
          "mark": {"type": "rule", "color": "#787b86", "strokeDash": [4, 3], "strokeWidth": 0.8},
          "encoding": {
            "x": {"datum": {"year":2023,"month":2,"date":25,"hours":19,"utc":true}, "type": "temporal"},
            "x2": {"datum": {"year":2024,"month":1,"date":6,"utc":true}},
            "y": {"field": "r", "type": "quantitative"}
          }
        },
        {
          "data": {"name": "rsi"},
          "transform": [{"filter": "(datum.t >= utc(2023,5,7) && datum.t <= utc(2023,5,19)) || (datum.t >= utc(2023,7,16) && datum.t <= utc(2023,7,28))"}],
          "mark": {"type": "area", "color": "#ef5350", "opacity": 0.18, "clip": true},
          "encoding": {
            "x": {"field": "t", "type": "temporal"},
            "y": {"field": "r", "type": "quantitative"},
            "y2": {"datum": 30}
          }
        },
        {
          "data": {"name": "rsi"},
          "transform": [{"filter": "datum.t >= utc(2023,10,6)"}],
          "mark": {"type": "area", "color": "#26a69a", "opacity": 0.22, "clip": true},
          "encoding": {
            "x": {"field": "t", "type": "temporal"},
            "y": {"field": "r", "type": "quantitative"},
            "y2": {"datum": 70}
          }
        },
        {
          "data": {"name": "rsiMa"},
          "mark": {"type": "line", "interpolate": "monotone", "color": "#f5df4d", "strokeWidth": 1, "clip": true},
          "encoding": {
            "x": {"field": "t", "type": "temporal"},
            "y": {"field": "r", "type": "quantitative"}
          }
        },
        {
          "data": {"name": "rsi"},
          "mark": {"type": "line", "color": "#7e57c2", "strokeWidth": 1, "clip": true},
          "encoding": {
            "x": {"field": "t", "type": "temporal"},
            "y": {"field": "r", "type": "quantitative"}
          }
        },
        {
          "data": {"name": "rsiTicks"},
          "transform": [{"filter": "datum.r < 80"}],
          "mark": {"type": "text", "fontSize": 6.5, "color": "#131722", "align": "left", "baseline": "middle"},
          "encoding": {
            "x": {"datum": {"year":2024,"month":1,"date":7,"utc":true}, "type": "temporal"},
            "y": {"field": "r", "type": "quantitative"},
            "text": {"field": "lab"}
          }
        },
        {
          "data": {"name": "rsiTicks"},
          "transform": [{"filter": "datum.r > 80"}],
          "mark": {"type": "text", "fontSize": 6.5, "color": "#131722", "align": "left", "baseline": "middle", "yOffset": -6},
          "encoding": {
            "x": {"datum": {"year":2024,"month":1,"date":7,"utc":true}, "type": "temporal"},
            "y": {"field": "r", "type": "quantitative"},
            "text": {"field": "lab"}
          }
        },
        {
          "data": {"name": "rsiTags"},
          "transform": [{"filter": "datum.k == 'rsi'"}],
          "mark": {"type": "point", "filled": true, "opacity": 1, "size": 484, "color": "#7e57c2", "yOffset": -2, "shape": "M-1,-0.34L1,-0.34L1,0.34L-1,0.34Z"},
          "encoding": {
            "x": {"datum": {"year":2024,"month":1,"date":9,"hours":14,"utc":true}, "type": "temporal"},
            "y": {"field": "r", "type": "quantitative"}
          }
        },
        {
          "data": {"name": "rsiTags"},
          "transform": [{"filter": "datum.k == 'ma'"}],
          "mark": {"type": "point", "filled": true, "opacity": 1, "size": 484, "color": "#ffeb3b", "yOffset": 4, "shape": "M-1,-0.34L1,-0.34L1,0.34L-1,0.34Z"},
          "encoding": {
            "x": {"datum": {"year":2024,"month":1,"date":9,"hours":14,"utc":true}, "type": "temporal"},
            "y": {"field": "r", "type": "quantitative"}
          }
        },
        {
          "data": {"name": "rsiTags"},
          "transform": [{"filter": "datum.k == 'rsi'"}],
          "mark": {"type": "text", "fontSize": 6.5, "align": "left", "baseline": "middle", "color": "#ffffff", "yOffset": -2},
          "encoding": {
            "x": {"datum": {"year":2024,"month":1,"date":7,"utc":true}, "type": "temporal"},
            "y": {"field": "r", "type": "quantitative"},
            "text": {"field": "lab"}
          }
        },
        {
          "data": {"name": "rsiTags"},
          "transform": [{"filter": "datum.k == 'ma'"}],
          "mark": {"type": "text", "fontSize": 6.5, "align": "left", "baseline": "middle", "color": "#131722", "yOffset": 4},
          "encoding": {
            "x": {"datum": {"year":2024,"month":1,"date":7,"utc":true}, "type": "temporal"},
            "y": {"field": "r", "type": "quantitative"},
            "text": {"field": "lab"}
          }
        }
      ]
    }
  ]
}
